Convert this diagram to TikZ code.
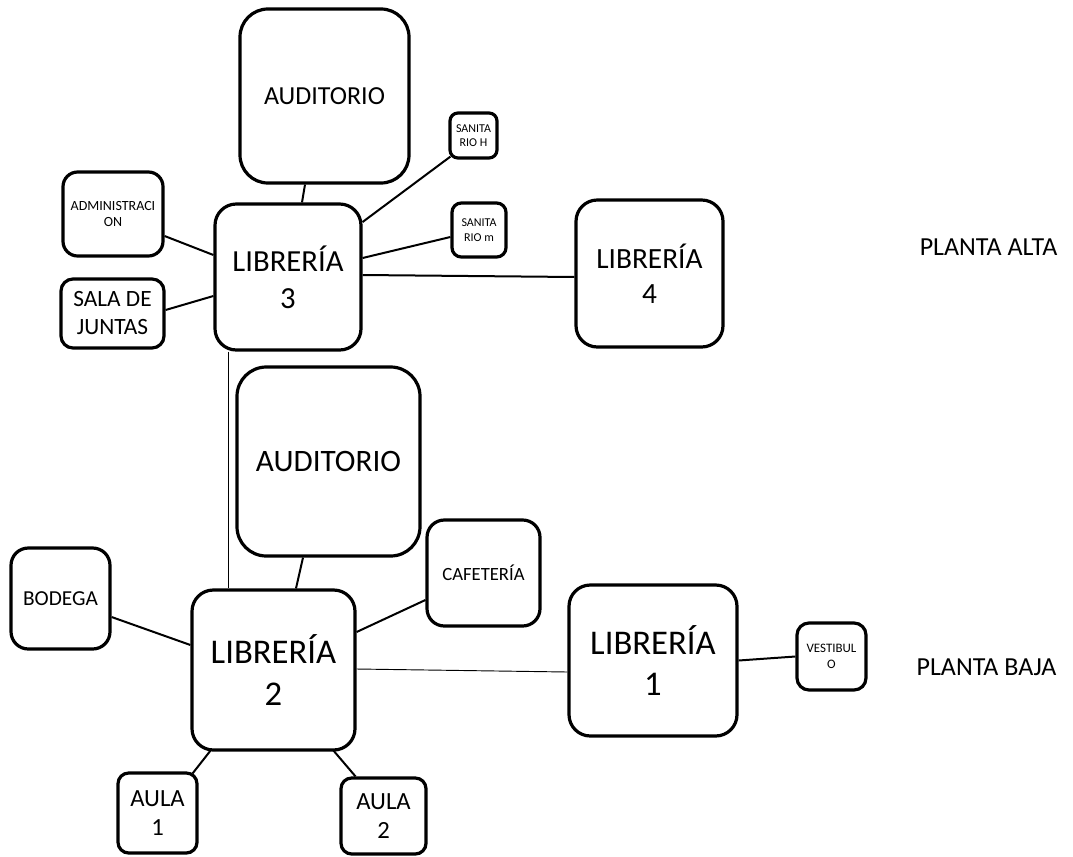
\documentclass[tikz,border=0pt]{standalone}
\usepackage{fontspec}
\setmainfont{Carlito}
\usetikzlibrary{calc}
\newcommand{\fsz}[1]{\fontsize{#1}{\dimexpr#1pt*6/5\relax}\selectfont}
\tikzset{room/.style={draw, line width=2.4pt, rounded corners=#1, align=center, inner sep=0pt},
	room/.default=16pt,
	link/.style={line width=1.5pt},
	thinlink/.style={line width=0.7pt}}

\begin{document}
\begin{tikzpicture}[x=0.75pt,y=-0.75pt]
	\useasboundingbox (0,0) rectangle (1073,856);
	% planta alta
	\node[room=21pt,minimum width=126.75pt,minimum height=130.5pt,font=\fsz{19.5}] (audA) at (324.5,96) {AUDITORIO};
	\node[room=6pt,minimum width=35.25pt,minimum height=33.75pt,font=\fsz{9}] (sanH) at (473.5,135.5) {SANITA\\RIO H};
	\node[room=11pt,minimum width=75pt,minimum height=63pt,font=\fsz{10.5}] (admin) at (113,214) {ADMINISTRACI\\ON};
	\node[room,minimum width=109.5pt,minimum height=109.5pt,font=\fsz{23}] (lib3) at (288,277) {LIBRERÍA\\3};
	\node[room=7pt,minimum width=40.5pt,minimum height=40.5pt,font=\fsz{9}] (sanM) at (479,230) {SANITA\\RIO m};
	\node[room=9pt,minimum width=77.25pt,minimum height=51.75pt,font=\fsz{17.5}] (sala) at (112.5,313.5) {SALA DE\\JUNTAS};
	\node[room,minimum width=110.25pt,minimum height=110.25pt,font=\fsz{22}] (lib4) at (649.5,273.5) {LIBRERÍA\\4};
	\node[font=\fsz{19.5}] (alta) at (988.5,247) {PLANTA ALTA};
	% planta baja
	\node[room=22pt,minimum width=137.25pt,minimum height=141.75pt,font=\fsz{23.4}] (audB) at (328.5,461.5) {AUDITORIO};
	\node[room=13pt,minimum width=84.75pt,minimum height=79.5pt,font=\fsz{14}] (cafe) at (483.5,573) {CAFETERÍA};
	\node[room=13pt,minimum width=74.25pt,minimum height=75.75pt,font=\fsz{16}] (bodega) at (60.5,598.5) {BODEGA};
	\node[room,minimum width=122.25pt,minimum height=120pt,font=\fsz{26}] (lib2) at (273.5,670) {LIBRERÍA\\2};
	\node[room,minimum width=126pt,minimum height=113.25pt,font=\fsz{26}] (lib1) at (653,660.5) {LIBRERÍA\\1};
	\node[room=9pt,minimum width=51.75pt,minimum height=50.25pt,font=\fsz{9.7}] (vest) at (831.5,656.5) {VESTIBUL\\O};
	\node[room=8pt,minimum width=59.25pt,minimum height=60pt,font=\fsz{18.5}] (aula1) at (157.5,813) {AULA\\1};
	\node[room=8pt,minimum width=63.75pt,minimum height=57pt,font=\fsz{18.5}] (aula2) at (383.5,816) {AULA\\2};
	\node[font=\fsz{19.5}] (baja) at (986.5,667) {PLANTA BAJA};

	\draw[link] ($(audA.south)+(-19.5,0)$) -- ($(lib3.north)+(14,0)$);
	\draw[link] ($(sanH.south west)+(2,-3)$) -- ($(lib3.east)+(0,-55)$);
	\draw[link] ($(admin.east)+(0,22)$) -- ($(lib3.west)+(0,-22)$);
	\draw[link] ($(sanM.west)+(0,7)$) -- ($(lib3.east)+(0,-19)$);
	\draw[link] ($(lib3.east)+(0,-2)$) -- ($(lib4.west)+(0,3.5)$);
	\draw[link] ($(sala.east)+(0,-3.5)$) -- ($(lib3.west)+(0,19)$);
	\draw[thinlink] ($(lib3.south)+(-60,0)$) -- ($(lib2.north)+(-45.5,0)$);
	\draw[link] ($(audB.south)+(-25.5,0)$) -- ($(lib2.north)+(22.5,0)$);
	\draw[link] ($(cafe.west)+(0,27)$) -- ($(lib2.east)+(0,-38)$);
	\draw[link] ($(bodega.east)+(0,18.5)$) -- ($(lib2.west)+(0,-25)$);
	\draw[thinlink] ($(lib2.east)+(0,-1)$) -- ($(lib1.west)+(0,11.5)$);
	\draw[link] (lib1.east) -- (vest.west);
	\draw[link] ($(lib2.south)+(-63,-1)$) -- ($(aula1.north east)+(-6,2)$);
	\draw[link] ($(lib2.south)+(60,-1)$) -- ($(aula2.north)+(-28,0)$);
\end{tikzpicture}
\end{document}
